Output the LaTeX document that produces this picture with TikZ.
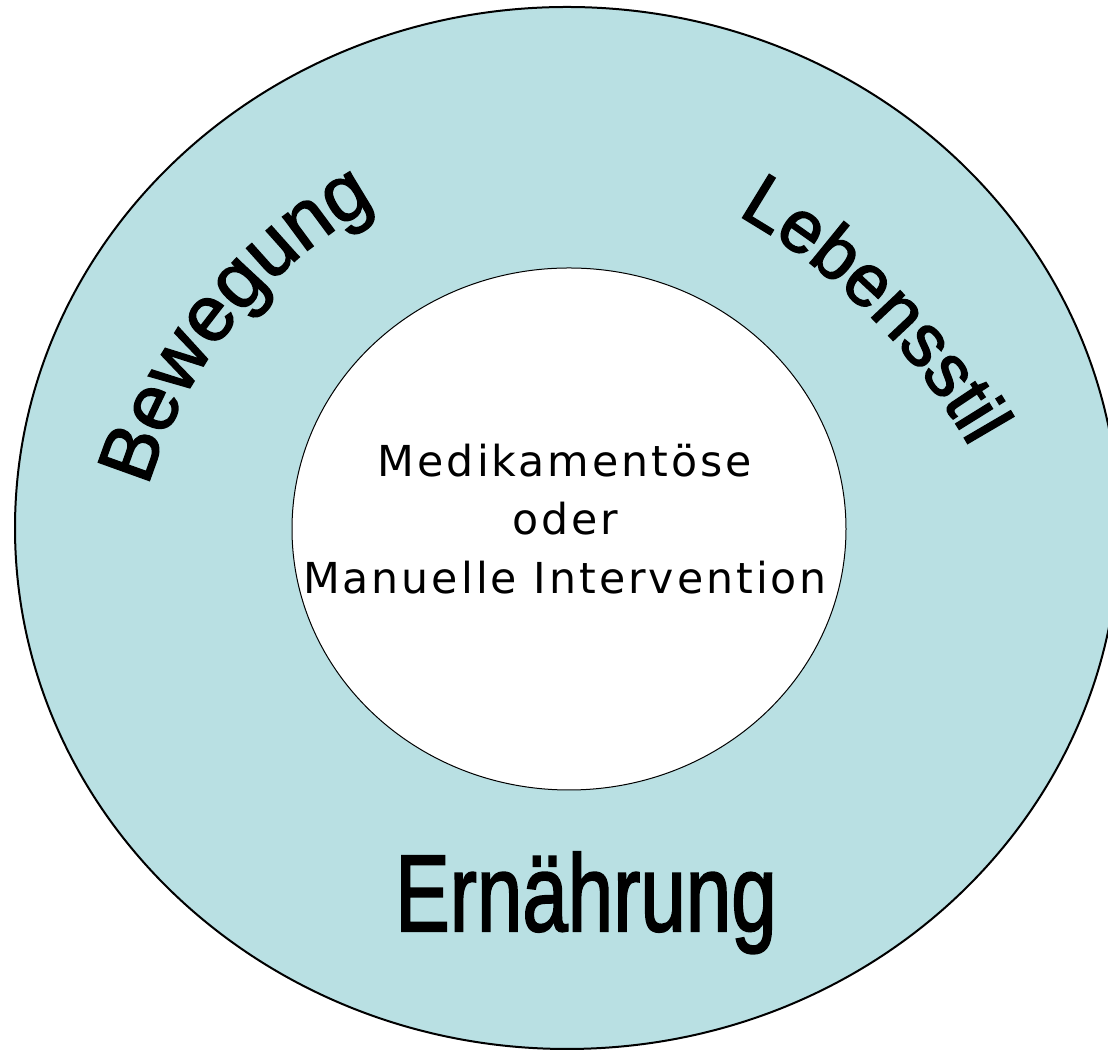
\documentclass[tikz,border=0pt]{standalone}
\usepackage{graphicx}
\usepackage{fontspec}
\usetikzlibrary{decorations.text}
\newfontfamily\ringfont[FakeBold=2]{Liberation Sans}
\newfontfamily\corefont[LetterSpace=7]{DejaVu Sans}
\definecolor{ringblue}{RGB}{185,224,227}
\begin{document}
\begin{tikzpicture}[x=0.75pt,y=0.75pt,
    ringword/.style={decorate,decoration={text along path,text align=center,text={#1}}}]
  \useasboundingbox (0,0) rectangle (1108,1052);

  % outer ring and inner disc
  \coordinate (outc) at (567,524);
  \coordinate (inc) at (569,523);
  \filldraw[fill=ringblue, line width=1.5pt] (outc) ellipse [x radius=552, y radius=521];
  \filldraw[fill=white, line width=0.75pt] (inc) ellipse [x radius=277, y radius=261];

  % words on the ring
  \coordinate (bewc) at (604,429);
  \coordinate (lebc) at (431,298);
  \path[ringword={|\ringfont\fontsize{59}{60}\selectfont|Bewegung}]
    ([shift={(167:476)}]bewc) arc [start angle=167, end angle=115, radius=476];
  \path[ringword={|\ringfont\fontsize{55.5}{60}\selectfont|Lebensstil}]
    ([shift={(66:620)}]lebc) arc [start angle=66, end angle=24, radius=620];
  \node[anchor=base, inner sep=0pt] (food) at (586,121)
    {\scalebox{0.75}[1]{\ringfont\fontsize{81.7}{90}\selectfont Ernährung}};

  % text in the middle
  \node[align=center, inner sep=0pt, font=\corefont\fontsize{32}{44}\selectfont]
    (core) at (565,533) {Medikamentöse\\ oder\\ Manuelle Intervention};
\end{tikzpicture}
\end{document}
